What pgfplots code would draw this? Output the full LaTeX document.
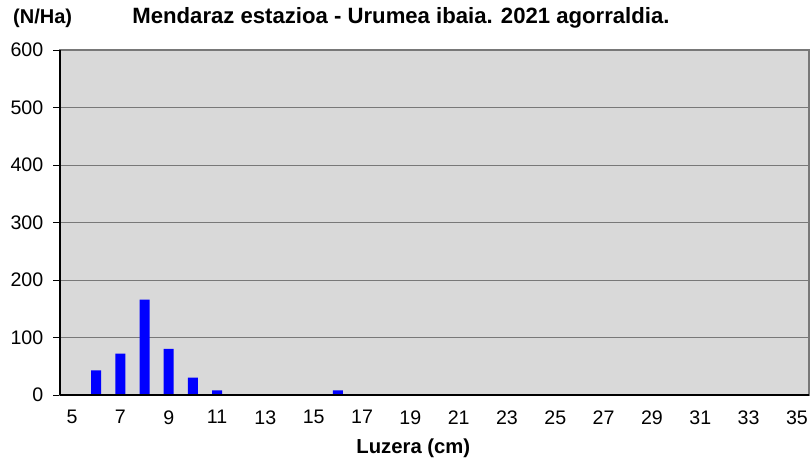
\documentclass[border=0pt]{standalone}
\usepackage{fontspec}
\setmainfont{Liberation Sans}
\usepackage{pgfplots}
\pgfplotsset{compat=1.18}

\definecolor{plotbg}{RGB}{217,217,217}
\definecolor{gridc}{RGB}{120,120,120}

\begin{document}
\begin{tikzpicture}
\useasboundingbox (-45pt,-53.25pt) rectangle (563.25pt,296.25pt);
\begin{axis}[
  scale only axis,
  width=561.75pt,
  height=258.75pt,
  at={(0pt,0pt)}, anchor=origin,
  xmin=4.5, xmax=35.5,
  ymin=0, ymax=600,
  xtick={5,7,...,35},
  major x tick style={draw=none},
  extra x ticks={4.5,5.5,...,35.5},
  extra x tick labels={},
  extra x tick style={tick style={draw=black, line width=0.6pt}, major tick length=5pt, tick align=outside, grid=none},
  ytick={0,100,...,600},
  ymajorgrids=true,
  grid style={gridc, line width=0.6pt},
  tick align=outside,
  major tick length=5pt,
  ytick style={black, line width=0.6pt},
  xtick pos=bottom, ytick pos=left,
  axis background/.style={fill=plotbg},
  axis line style={gridc, line width=0.8pt},
  tick label style={font=\fontsize{14.7}{16}\selectfont, /pgf/number format/assume math mode=true},
  xticklabel style={yshift=-3pt},
  yticklabel style={xshift=-4pt},
  clip=false,
]
\addplot[ybar, bar width=7.5pt, fill=blue, draw=none] coordinates {
  (6,43) (7,72) (8,166) (9,80) (10,30) (11,8) (16,8)
};
\draw[black, line width=0.8pt] (axis cs:4.5,0) -- (axis cs:35.5,0);
\draw[black, line width=0.8pt] (axis cs:4.5,0) -- (axis cs:4.5,600);
\end{axis}
\node[font=\bfseries\fontsize{15}{17}\selectfont] at (-13pt,282.75pt) {(N/Ha)};
\node[font=\bfseries\fontsize{16.6}{18}\selectfont] at (255.75pt,282.75pt) {Mendaraz estazioa - Urumea ibaia. 2021 agorraldia.};
\node[font=\bfseries\fontsize{15.2}{17}\selectfont] at (265pt,-40pt) {Luzera (cm)};
\end{tikzpicture}
\end{document}
